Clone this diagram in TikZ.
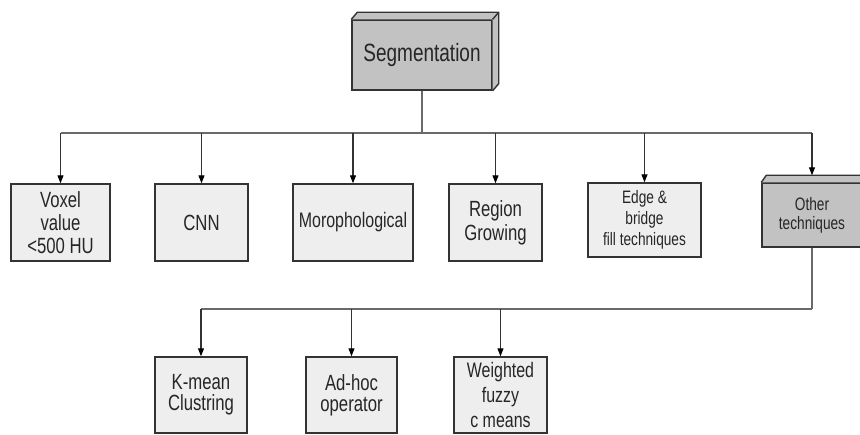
\documentclass[tikz,border=0pt]{standalone}
\usepackage{fontspec}
\usetikzlibrary{arrows.meta,calc}
\newfontfamily\lblfont[FakeStretch=0.76]{Liberation Sans}
\definecolor{boxfill}{HTML}{EEEEEE}
\definecolor{darkfill}{HTML}{C2C2C2}
\definecolor{edgecol}{HTML}{333333}
\definecolor{buscol}{HTML}{6A6A6A}
\tikzset{
  plainbox/.style={draw=edgecol, line width=1.4pt, fill=boxfill, inner sep=0pt,
    align=center, text=black!85},
  raisedbox/.style={plainbox, fill=darkfill},
  bus/.style={draw=buscol, line width=1.4pt},
  feed/.style={draw=edgecol, line width=1.2pt,
    -{Triangle[length=8pt,width=6pt,color=black]}},
  fs/.style n args={2}{font={\lblfont\fontsize{#1}{#2}\selectfont}},
}
\begin{document}
\begin{tikzpicture}[x=1pt, y=-1pt]
  \useasboundingbox (0,0) rectangle (860,435);
  \clip (0,0) rectangle (860,435);
  \fill[white] (0,0) rectangle (860,435);

  % root, drawn as a raised block
  \node[raisedbox, minimum width=140pt, minimum height=70pt, fs={25}{28}] (seg) at (422,55) {Segmentation};
  \fill[darkfill] (seg.north west) -- ++(6,-7) -- ($(seg.north east)+(6,-7)$) -- ($(seg.south east)+(6,-7)$) -- (seg.south east) -- (seg.north east) -- cycle;
  \draw[edgecol, line width=1.4pt, line join=round]
    (seg.north west) -- ++(6,-7) -- ($(seg.north east)+(6,-7)$) -- (seg.north east)
    ($(seg.north east)+(6,-7)$) -- ($(seg.south east)+(6,-7)$) -- (seg.south east);

  % first level
  \node[plainbox, minimum width=99pt, minimum height=77pt, fs={22}{23}] (voxel) at (60.5,222.5) {Voxel\\value\\{<}500 HU};
  \node[plainbox, minimum width=93pt, minimum height=77pt, fs={22}{23}] (cnn) at (201.5,222.5) {CNN};
  \node[plainbox, minimum width=120pt, minimum height=77pt, fs={21}{23}] (morph) at (353,222.5) {Morophological};
  \node[plainbox, minimum width=93pt, minimum height=77pt, fs={22}{24}] (region) at (495.5,222.5) {Region\\Growing};
  \node[plainbox, minimum width=113pt, minimum height=74pt, fs={18}{21}] (edge) at (644.5,220) {Edge \&\\bridge\\fill techniques};
  \node[raisedbox, minimum width=100pt, minimum height=64pt, fs={18}{19}] (other) at (812,215) {Other\\techniques};
  \fill[darkfill] (other.north west) -- ++(5,-7) -- ($(other.north east)+(5,-7)$) -- (other.north east) -- cycle;
  \draw[edgecol, line width=1.4pt, line join=round]
    (other.north west) -- ++(5,-7) -- ($(other.north east)+(5,-7)$);
  \coordinate (othertop) at ($(other.north)+(0,-7)$);

  % second level
  \node[plainbox, minimum width=92pt, minimum height=76pt, fs={22}{21}] (kmean) at (201,395) {K-mean\\Clustring};
  \node[plainbox, minimum width=91pt, minimum height=76pt, fs={22}{21}] (adhoc) at (351.5,395) {Ad-hoc\\operator};
  \node[plainbox, minimum width=93pt, minimum height=76pt, fs={21}{25}] (weighted) at (500.5,395) {Weighted\\fuzzy\\c means};

  % upper bus
  \coordinate (ubus) at (0,133);
  \draw[bus] (seg.south) -- (seg.south |- ubus);
  \draw[bus] (voxel.north |- ubus) -- (other.north |- ubus);
  \foreach \n in {voxel,cnn,morph,region,edge}
    \draw[feed] (\n.north |- ubus) -- (\n.north);
  \draw[feed] (other.north |- ubus) -- (othertop);

  % lower bus
  \coordinate (lbus) at (0,309);
  \draw[bus] (other.south) -- (other.south |- lbus);
  \draw[bus] (kmean.north |- lbus) -- (other.south |- lbus);
  \foreach \n in {kmean,adhoc,weighted}
    \draw[feed] (\n.north |- lbus) -- (\n.north);
\end{tikzpicture}
\end{document}
